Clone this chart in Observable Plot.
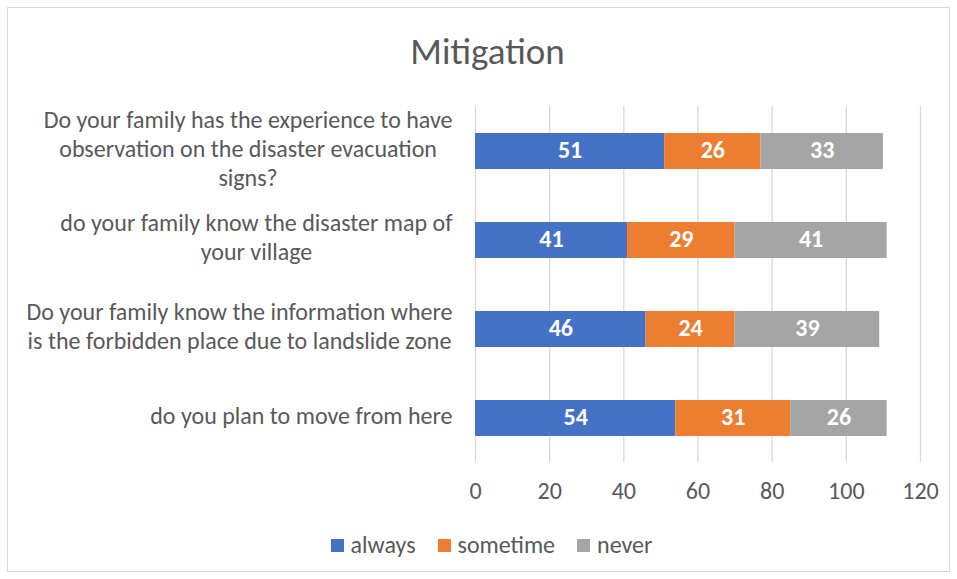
<!DOCTYPE html>
<html>
<head>
<meta charset="utf-8">
<script src="https://cdn.jsdelivr.net/npm/d3@7"></script>
<script src="https://cdn.jsdelivr.net/npm/@observablehq/plot@0.6"></script>
<style>
  html, body { margin: 0; padding: 0; background: #fff; }
  #wrap { position: relative; width: 957px; height: 579px; overflow: hidden; font-family: Carlito, Lato, sans-serif; }
  #border { position: absolute; left: 7px; top: 7px; width: 943px; height: 565px; border: 1px solid #D9D9D9; box-sizing: border-box; }
  #title { position: absolute; left: 0; width: 975px; top: 28px; text-align: center; font-size: 37px; color: #595959; line-height: 48px; }
  #chart { position: absolute; left: 0; top: 96px; }
  #legend { position: absolute; left: 0; width: 983px; top: 530px; display: flex; justify-content: center; gap: 22px; font-size: 24px; color: #595959; line-height: 30px; }
  .item { display: flex; align-items: center; gap: 7px; }
  .sw { width: 13px; height: 13px; display: inline-block; }
</style>
</head>
<body>
<div id="wrap">
  <div id="border"></div>
  <div id="title">Mitigation</div>
  <div id="chart"></div>
  <div id="legend"></div>
</div>
<script>
const categories = [
  "Do your family has the experience to have\nobservation on the disaster evacuation\nsigns?",
  "do your family know the disaster map of\nyour village",
  "Do your family know the information where\nis the forbidden place due to landslide zone",
  "do you plan to move from here"
];
const seriesNames = ["always", "sometime", "never"];
const always = [51, 41, 46, 54];
const sometime = [26, 29, 24, 31];
const never = [33, 41, 39, 26];
const seriesColors = ["#4472C4", "#ED7D31", "#A5A5A5"];
const xTicks = [0, 20, 40, 60, 80, 100, 120];

const seriesValues = [always, sometime, never];
const rows = [];
seriesNames.forEach((s, si) => {
  categories.forEach((c, ci) => rows.push({question: c, series: s, value: seriesValues[si][ci]}));
});

const chart = Plot.plot({
  width: 957,
  height: 416,
  marginLeft: 475,
  marginRight: 37,
  marginTop: 10,
  marginBottom: 50,
  style: {fontFamily: "Carlito, Lato, sans-serif", background: "transparent"},
  x: {domain: [0, 120], axis: null},
  y: {domain: categories, paddingInner: 0.6, paddingOuter: 0.3, axis: null},
  color: {domain: seriesNames, range: seriesColors},
  marks: [
    Plot.gridX(xTicks, {stroke: "#D9D9D9", strokeOpacity: 1, strokeWidth: 1.3}),
    Plot.barX(rows, Plot.stackX({x: "value", y: "question", fill: "series", z: "series"})),
    Plot.text(rows, Plot.stackX({x: "value", y: "question", z: "series", text: d => String(d.value), fill: "white", fontWeight: "bold", fontSize: 24, dy: -1})),
    Plot.axisX({ticks: xTicks, tickSize: 0, tickPadding: 19, fontSize: 24, color: "#595959", label: null}),
    Plot.text(categories, {y: d => d, text: d => d, frameAnchor: "left", textAnchor: "end", dx: -23, dy: -4, lineHeight: 1.21, fontSize: 24, fill: "#595959"})
  ]
});
document.getElementById("chart").appendChild(chart);

// center wrapped lines within each label block (Excel-like)
chart.querySelectorAll("text").forEach(t => {
  const spans = Array.from(t.querySelectorAll("tspan"));
  if (spans.length < 2) return;
  const widths = spans.map(s => s.getComputedTextLength());
  const maxW = Math.max(...widths);
  spans.forEach((s, i) => s.setAttribute("x", -(maxW - widths[i]) / 2));
});

const legend = document.getElementById("legend");
seriesNames.forEach((s, i) => {
  const item = document.createElement("div");
  item.className = "item";
  item.innerHTML = `<span class="sw" style="background:${seriesColors[i]}"></span><span>${s}</span>`;
  legend.appendChild(item);
});
</script>
</body>
</html>
